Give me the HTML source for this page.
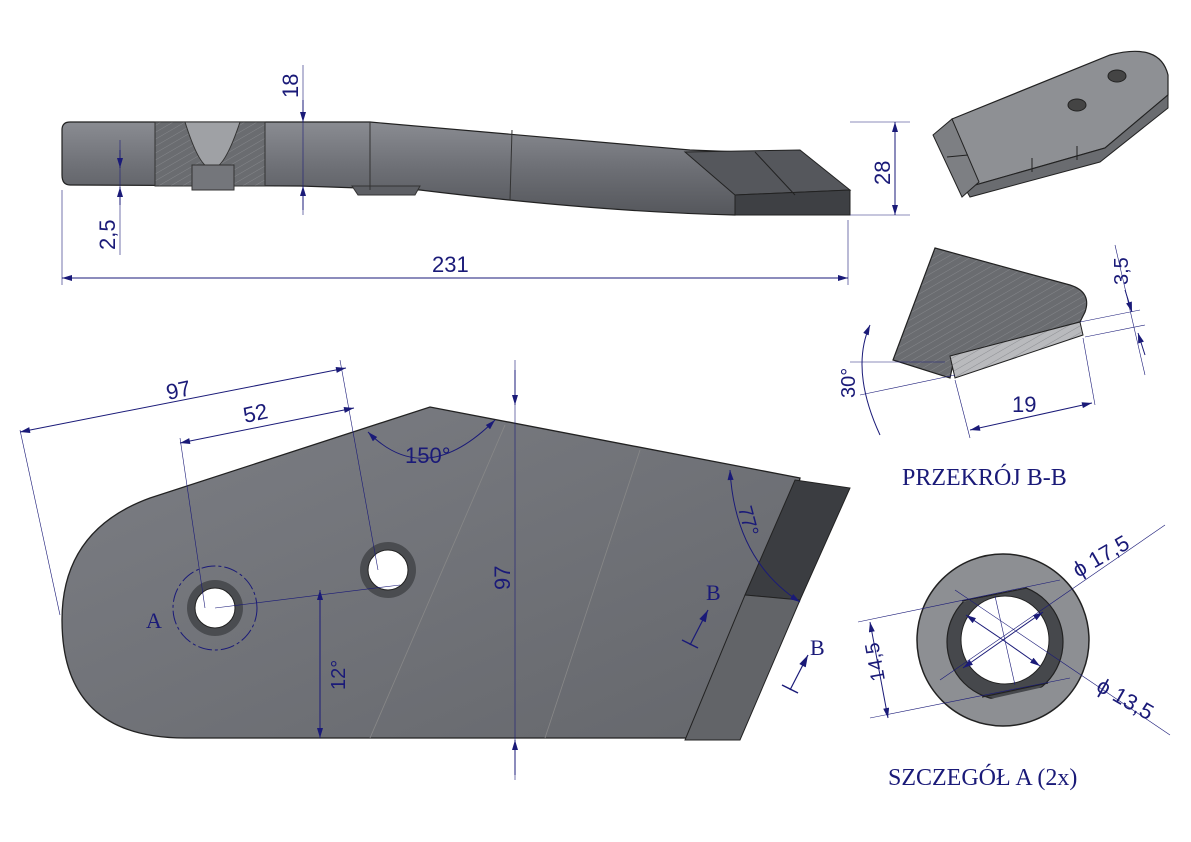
<!DOCTYPE html>
<html><head><meta charset="utf-8"><style>
html,body{margin:0;padding:0;background:#fff;}
svg{display:block;}
text{font-family:"Liberation Sans",sans-serif;fill:#1a1a78;}
.t{font-family:"Liberation Serif",serif;fill:#1a1a78;}
.d{stroke:#1a1a78;stroke-width:1;fill:none;}
.e{stroke:#1a1a78;stroke-width:0.6;fill:none;}
</style></head><body>
<svg width="1191" height="842" viewBox="0 0 1191 842" xmlns="http://www.w3.org/2000/svg">
<defs>
<linearGradient id="g1" x1="0" y1="0" x2="0" y2="1"><stop offset="0" stop-color="#8a8c92"/><stop offset="0.5" stop-color="#6d6f75"/><stop offset="1" stop-color="#55575c"/></linearGradient>
<linearGradient id="g2" x1="0" y1="0" x2="1" y2="1"><stop offset="0" stop-color="#7c7e84"/><stop offset="1" stop-color="#65676c"/></linearGradient>
<pattern id="h" width="6" height="6" patternUnits="userSpaceOnUse" patternTransform="rotate(60)"><rect width="6" height="6" fill="#6a6c70"/><line x1="0" y1="0" x2="0" y2="6" stroke="#85878b" stroke-width="1"/></pattern>
<pattern id="h2" width="6" height="6" patternUnits="userSpaceOnUse" patternTransform="rotate(60)"><rect width="6" height="6" fill="#b9babd"/><line x1="0" y1="0" x2="0" y2="6" stroke="#8c8e92" stroke-width="1"/></pattern>
<marker id="a" viewBox="0 0 10 6" refX="10" refY="3" markerWidth="12" markerHeight="6" orient="auto-start-reverse"><path d="M0,0 L10,3 L0,6z" fill="#1a1a78"/></marker>
<clipPath id="band"><path d="M940,607 L1060,580 L1075,680 L955,707z"/></clipPath>
</defs>

<!-- TOP SIDE VIEW -->
<path d="M70,122 L370,122 L690,150 L740,152 L735,215 Q600,212 420,190 L300,186 L70,185 Q62,185 62,175 L62,130 Q62,122 70,122z" fill="url(#g1)" stroke="#222" stroke-width="1.2"/>
<rect x="155" y="122" width="110" height="64" fill="url(#h)" stroke="#333"/>
<path d="M185,122 Q200,170 212,168 Q224,170 240,122z" fill="#9fa1a5" stroke="#333"/>
<rect x="192" y="165" width="42" height="25" fill="#74767b" stroke="#333"/>
<path d="M352,186 L420,186 L415,195 L358,195z" fill="#5d5f64" stroke="#333"/>
<line x1="370" y1="122" x2="370" y2="190" stroke="#333"/>
<line x1="512" y1="130" x2="510" y2="200" stroke="#333"/>
<path d="M685,152 L800,150 L850,190 L735,195z" fill="#55575c" stroke="#222"/>
<path d="M735,195 L850,190 L850,215 L735,215z" fill="#3e4044" stroke="#222"/>
<line x1="755" y1="152" x2="795" y2="195" stroke="#222"/>
<!-- dims top -->
<line class="e" x1="303" y1="65" x2="303" y2="215"/>
<line class="d" x1="303" y1="100" x2="303" y2="122" marker-end="url(#a)"/>
<line class="d" x1="303" y1="210" x2="303" y2="186" marker-end="url(#a)"/>
<text transform="translate(298,98) rotate(-90)" font-size="22">18</text>
<line class="e" x1="850" y1="122" x2="910" y2="122"/><line class="e" x1="850" y1="215" x2="910" y2="215"/>
<line class="d" x1="895" y1="122" x2="895" y2="215" marker-start="url(#a)" marker-end="url(#a)"/>
<text transform="translate(890,185) rotate(-90)" font-size="22">28</text>
<line class="e" x1="120" y1="140" x2="120" y2="255"/>
<line class="d" x1="120" y1="150" x2="120" y2="168" marker-end="url(#a)"/>
<line class="d" x1="120" y1="205" x2="120" y2="187" marker-end="url(#a)"/>
<text transform="translate(115,250) rotate(-90)" font-size="22">2,5</text>
<line class="e" x1="62" y1="190" x2="62" y2="285"/><line class="e" x1="848" y1="220" x2="848" y2="285"/>
<line class="d" x1="62" y1="278" x2="848" y2="278" marker-start="url(#a)" marker-end="url(#a)"/>
<text x="432" y="272" font-size="22">231</text>

<!-- 3D top right -->
<path d="M952,119 L1110,55 Q1160,42 1168,75 L1168,95 L1105,148 L965,188 Q958,190 955,180z" fill="#8e9094" stroke="#222" stroke-width="1.2"/>
<path d="M965,188 L1105,148 L1168,95 L1168,108 L1100,162 L970,197z" fill="#6a6c70" stroke="#222" stroke-width="1"/>
<line x1="1032" y1="158" x2="1032" y2="172" stroke="#222"/><line x1="1077" y1="146" x2="1077" y2="160" stroke="#222"/>
<path d="M933,135 L952,119 L979,182 L962,197z" fill="#7d7f83" stroke="#222"/>
<line x1="947" y1="157" x2="968" y2="155" stroke="#222"/>
<ellipse cx="1077" cy="105" rx="9" ry="6" fill="#444" stroke="#222"/><ellipse cx="1117" cy="76" rx="9" ry="6" fill="#444" stroke="#222"/>

<!-- SECTION B-B -->
<path d="M935,248 L1070,285 Q1092,292 1085,312 L1080,322 L955,355 L950,378 L893,360z" fill="url(#h)" stroke="#222" stroke-width="1.2"/>
<path d="M950,356 L1080,322 L1083,335 L955,378z" fill="url(#h2)" stroke="#222"/>
<line class="e" x1="850" y1="362" x2="945" y2="362"/>
<line class="e" x1="860" y1="395" x2="955" y2="375"/>
<line class="e" x1="1080" y1="322" x2="1140" y2="310"/><line class="e" x1="1085" y1="337" x2="1145" y2="325"/>
<line class="e" x1="1115" y1="245" x2="1145" y2="375"/>
<line class="d" x1="1125" y1="290" x2="1132" y2="312" marker-end="url(#a)"/>
<line class="d" x1="1145" y1="355" x2="1138" y2="333" marker-end="url(#a)"/>
<text transform="translate(1128,285) rotate(-90)" font-size="20">3,5</text>
<line class="e" x1="955" y1="380" x2="970" y2="438"/><line class="e" x1="1083" y1="338" x2="1095" y2="405"/>
<line class="d" x1="970" y1="430" x2="1092" y2="403" marker-start="url(#a)" marker-end="url(#a)"/>
<text x="1012" y="412" font-size="22">19</text>
<path class="d" d="M870,325 Q850,370 880,435" marker-start="url(#a)"/>
<text transform="translate(855,398) rotate(-90)" font-size="20">30°</text>
<text class="t" x="902" y="485" font-size="24">PRZEKRÓJ B-B</text>

<!-- MAIN PLAN VIEW -->
<path d="M150,498 L430,407 L800,478 L740,738 L185,738 Q62,738 62,620 Q62,530 150,498z" fill="url(#g2)" stroke="#222" stroke-width="1.3"/>
<path d="M795,480 L850,488 L800,600 L745,595z" fill="#3b3d41" stroke="#222"/>
<path d="M745,595 L800,600 L740,740 L685,740z" fill="#626468" stroke="#222"/>
<line x1="370" y1="738" x2="505" y2="425" stroke="#888" stroke-width="0.8"/>
<line x1="545" y1="738" x2="640" y2="450" stroke="#888" stroke-width="0.8"/>
<circle cx="215" cy="608" r="28" fill="#4a4c50"/><circle cx="215" cy="608" r="20" fill="#fff" stroke="#222"/>
<circle cx="388" cy="570" r="28" fill="#4a4c50"/><circle cx="388" cy="570" r="20" fill="#fff" stroke="#222"/>
<circle cx="215" cy="608" r="42" class="d" stroke-dasharray="14,3,3,3"/>
<text class="t" x="146" y="628" font-size="22">A</text>
<!-- plan dims -->
<line class="e" x1="20" y1="430" x2="60" y2="615"/><line class="e" x1="340" y1="360" x2="378" y2="570"/>
<line class="d" x1="20" y1="432" x2="346" y2="368" marker-start="url(#a)" marker-end="url(#a)"/>
<text transform="translate(168,400) rotate(-12)" font-size="22">97</text>
<line class="e" x1="180" y1="438" x2="205" y2="608"/>
<line class="d" x1="180" y1="443" x2="354" y2="408" marker-start="url(#a)" marker-end="url(#a)"/>
<text transform="translate(245,423) rotate(-12)" font-size="22">52</text>
<path class="d" d="M368,432 Q425,490 495,420" marker-start="url(#a)" marker-end="url(#a)"/>
<text x="405" y="463" font-size="22">150°</text>
<line class="e" x1="515" y1="360" x2="515" y2="780"/>
<line class="d" x1="515" y1="370" x2="515" y2="405" marker-end="url(#a)"/>
<line class="d" x1="515" y1="775" x2="515" y2="740" marker-end="url(#a)"/>
<text transform="translate(510,590) rotate(-90)" font-size="22">97</text>
<line class="e" x1="215" y1="608" x2="400" y2="585"/>
<line class="d" x1="320" y1="590" x2="320" y2="738" marker-start="url(#a)" marker-end="url(#a)"/>
<text transform="translate(345,690) rotate(-90)" font-size="20">12°</text>
<path class="d" d="M730,470 Q735,560 800,602" marker-start="url(#a)" marker-end="url(#a)"/>
<text transform="translate(738,508) rotate(75)" font-size="20">77°</text>
<line x1="690" y1="645" x2="708" y2="610" stroke="#1a1a78" stroke-width="1.2" marker-end="url(#a)"/>
<line x1="682" y1="640" x2="698" y2="648" stroke="#1a1a78" stroke-width="1.5"/>
<text class="t" x="706" y="600" font-size="22">B</text>
<line x1="790" y1="690" x2="808" y2="655" stroke="#1a1a78" stroke-width="1.2" marker-end="url(#a)"/>
<line x1="782" y1="685" x2="798" y2="693" stroke="#1a1a78" stroke-width="1.5"/>
<text class="t" x="810" y="655" font-size="22">B</text>

<!-- DETAIL A -->
<circle cx="1003" cy="640" r="86" fill="#8d8f93" stroke="#222" stroke-width="1.5"/>
<circle cx="1005" cy="642" r="58" fill="#46484c" stroke="#222" stroke-width="1.2" clip-path="url(#band)"/>
<path d="M962,601 L1027,588 M982,697 L1048,683" stroke="#222" stroke-width="1.2"/>
<circle cx="1005" cy="640" r="44" fill="#fff" stroke="#222"/>
<line class="e" x1="858" y1="622" x2="1060" y2="580"/><line class="e" x1="870" y1="718" x2="1070" y2="678"/>
<line class="e" x1="940" y1="680" x2="1165" y2="525"/><line class="e" x1="955" y1="590" x2="1170" y2="735"/>
<line class="e" x1="995" y1="596" x2="1015" y2="685"/>
<line class="d" x1="1003" y1="640" x2="1043" y2="612" marker-end="url(#a)"/>
<line class="d" x1="1003" y1="640" x2="963" y2="668" marker-end="url(#a)"/>
<line class="d" x1="1003" y1="640" x2="966" y2="615" marker-end="url(#a)"/>
<line class="d" x1="1003" y1="640" x2="1040" y2="666" marker-end="url(#a)"/>
<line class="d" x1="870" y1="622" x2="888" y2="718" marker-start="url(#a)" marker-end="url(#a)"/>
<text transform="translate(885,680) rotate(-100)" font-size="20">14,5</text>
<text transform="translate(1078,578) rotate(-30)" font-size="22">ϕ 17,5</text>
<text transform="translate(1095,690) rotate(30)" font-size="22">ϕ 13,5</text>
<text class="t" x="888" y="785" font-size="24">SZCZEGÓŁ A (2x)</text>
</svg>
</body></html>
